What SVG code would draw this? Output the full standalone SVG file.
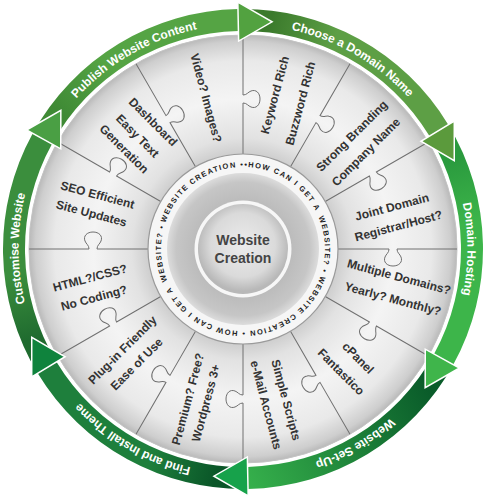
<svg xmlns="http://www.w3.org/2000/svg" width="486" height="500" viewBox="0 0 486 500">
<defs>
<style>
.pt{font-family:"Liberation Sans",Arial,sans-serif;font-weight:bold;font-size:12px;fill:#333;text-anchor:middle}
.bl{font-family:"Liberation Sans",Arial,sans-serif;font-weight:bold;font-size:12px;fill:#fff;text-anchor:middle}
.rt{font-family:"Liberation Sans",Arial,sans-serif;font-weight:bold;font-size:7.5px;fill:#1e1e1e;letter-spacing:1.3px}
.ct{font-family:"Liberation Sans",Arial,sans-serif;font-weight:bold;font-size:14px;fill:#444;text-anchor:middle}
.pl{fill:none;stroke:#707070;stroke-width:1}
.ah{stroke:#fff;stroke-width:1.5;stroke-linejoin:miter}
</style>
<path id="band" d="M35.154,129 A240,240 0 0,1 243,9 L243,31 A218,218 0 0,0 54.207,140 Z"/>
<path id="head" d="M243,2 L276.85,22.52 L243,41 Z"/>
<path id="pz" d="M243,154 L243,103 C247,103 248,106 251,107 C256,109 260,105 260,99 C260,93 256,89 251,91 C248,92 247,95 243,95 L243,35"/>
<path id="lblPath" d="M243,24.5 A224.5,224.5 0 1,1 243,473.5 A224.5,224.5 0 1,1 243,24.5"/>
<path id="ringPath" d="M165.283,222.845 A82,82 0 1,1 320.717,275.155 A82,82 0 1,1 165.283,222.845"/>
<linearGradient id="gP" gradientUnits="userSpaceOnUse" x1="62.55" y1="108.01" x2="111.65" y2="61.41"><stop offset="0" stop-color="#3f8a35"/><stop offset="1" stop-color="#55a444"/></linearGradient>
<linearGradient id="gC" gradientUnits="userSpaceOnUse" x1="62.55" y1="108.01" x2="111.65" y2="61.41"><stop offset="0" stop-color="#3b7a2c"/><stop offset="1" stop-color="#5d9f45"/></linearGradient>
<linearGradient id="gH" gradientUnits="userSpaceOnUse" x1="62.55" y1="108.01" x2="111.65" y2="61.41"><stop offset="0" stop-color="#2a9a3e"/><stop offset="1" stop-color="#3db54a"/></linearGradient>
<linearGradient id="gS" gradientUnits="userSpaceOnUse" x1="62.55" y1="108.01" x2="243" y2="20"><stop offset="0" stop-color="#0a5c2a"/><stop offset="1" stop-color="#35af4b"/></linearGradient>
<linearGradient id="gF" gradientUnits="userSpaceOnUse" x1="62.55" y1="108.01" x2="111.65" y2="61.41"><stop offset="0" stop-color="#0a5628"/><stop offset="1" stop-color="#1e7f3c"/></linearGradient>
<linearGradient id="gU" gradientUnits="userSpaceOnUse" x1="62.55" y1="108.01" x2="111.65" y2="61.41"><stop offset="0" stop-color="#1f6b2f"/><stop offset="1" stop-color="#3b8e3d"/></linearGradient>
<radialGradient id="disc" gradientUnits="userSpaceOnUse" cx="243" cy="249" r="214">
<stop offset="0.44" stop-color="#cdcdcd"/><stop offset="0.52" stop-color="#e2e2e2"/><stop offset="0.7" stop-color="#f4f4f4"/><stop offset="0.88" stop-color="#e9e9e9"/><stop offset="0.97" stop-color="#cecece"/><stop offset="1" stop-color="#b9b9b9"/>
</radialGradient>
<radialGradient id="gray" gradientUnits="userSpaceOnUse" cx="243" cy="249" r="76">
<stop offset="0.6" stop-color="#bababa"/><stop offset="0.88" stop-color="#c6c6c6"/><stop offset="1" stop-color="#dcdcdc"/>
</radialGradient>
<radialGradient id="core" gradientUnits="userSpaceOnUse" cx="243" cy="245" r="46">
<stop offset="0" stop-color="#ececec"/><stop offset="0.7" stop-color="#dadada"/><stop offset="1" stop-color="#b8b8b8"/>
</radialGradient>
</defs>
<rect width="486" height="500" fill="#fff"/>

<g id="wheel">
<circle cx="243" cy="249" r="214" fill="url(#disc)" stroke="#c4c4c4" stroke-width="1"/>
</g>

<g id="connectors">
<use href="#pz" class="pl" transform="rotate(0 243 249)"/>
<use href="#pz" class="pl" transform="rotate(30 243 249)"/>
<use href="#pz" class="pl" transform="rotate(60 243 249)"/>
<use href="#pz" class="pl" transform="rotate(90 243 249)"/>
<use href="#pz" class="pl" transform="rotate(120 243 249)"/>
<use href="#pz" class="pl" transform="rotate(150 243 249)"/>
<use href="#pz" class="pl" transform="rotate(180 243 249)"/>
<use href="#pz" class="pl" transform="rotate(210 243 249)"/>
<use href="#pz" class="pl" transform="rotate(240 243 249)"/>
<use href="#pz" class="pl" transform="rotate(270 243 249)"/>
<use href="#pz" class="pl" transform="rotate(300 243 249)"/>
<use href="#pz" class="pl" transform="rotate(330 243 249)"/>
</g>

<g id="cycle">
<use href="#band" fill="url(#gP)" transform="rotate(-1.2 243 249)"/>
<use href="#band" fill="url(#gC)" transform="rotate(58.8 243 249)"/>
<use href="#band" fill="url(#gH)" transform="rotate(118.8 243 249)"/>
<use href="#band" fill="url(#gS)" transform="rotate(178.8 243 249)"/>
<use href="#band" fill="url(#gF)" transform="rotate(238.8 243 249)"/>
<use href="#band" fill="url(#gU)" transform="rotate(298.8 243 249)"/>
<use href="#head" class="ah" fill="#52a240" transform="rotate(-1.2 243 249)"/>
<use href="#head" class="ah" fill="#5b9a3c" transform="rotate(58.8 243 249)"/>
<use href="#head" class="ah" fill="#3fb54b" transform="rotate(118.8 243 249)"/>
<use href="#head" class="ah" fill="#17a24b" transform="rotate(178.8 243 249)"/>
<use href="#head" class="ah" fill="#0f833d" transform="rotate(238.8 243 249)"/>
<use href="#head" class="ah" fill="#4a9f44" transform="rotate(298.8 243 249)"/>
</g>

<g id="step-publish"><text class="bl"><textPath href="#lblPath" startOffset="1293">Publish Website Content</textPath></text></g>
<g id="step-domain"><text class="bl"><textPath href="#lblPath" startOffset="117.5">Choose a Domain Name</textPath></text></g>
<g id="step-hosting"><text class="bl"><textPath href="#lblPath" startOffset="352.6">Domain Hosting</textPath></text></g>
<g id="step-setup"><text class="bl"><textPath href="#lblPath" startOffset="587.7">Website Set-Up</textPath></text></g>
<g id="step-theme"><text class="bl"><textPath href="#lblPath" startOffset="822.8">Find and Install Theme</textPath></text></g>
<g id="step-customise"><text class="bl"><textPath href="#lblPath" startOffset="1058">Customise Website</textPath></text></g>

<g id="hub">
<circle cx="243" cy="249" r="95" fill="#f6f6f6" stroke="#9a9a9a" stroke-width="1.2"/>
<circle cx="243" cy="249" r="76" fill="url(#gray)"/>
<circle cx="243" cy="249" r="48.5" fill="#f7f7f7"/>
<circle cx="243" cy="249" r="45" fill="url(#core)"/>
<g id="ring-text">
<text class="rt"><textPath href="#ringPath" startOffset="0">WEBSITE CREATION ••HOW CAN I GET A</textPath></text>
<text class="rt"><textPath href="#ringPath" startOffset="197.8">WEBSITE? •</textPath></text>
<text class="rt"><textPath href="#ringPath" startOffset="257.9">WEBSITE CREATION • HOW CAN I GET A</textPath></text>
<text class="rt"><textPath href="#ringPath" startOffset="455.1">WEBSITE? •</textPath></text>
</g>
<text class="ct" x="243" y="245">Website</text>
<text class="ct" x="243" y="263">Creation</text>
</g>

<g id="p-keyword"><text class="pt" transform="translate(275,95) rotate(-75)" y="4">Keyword Rich</text><text class="pt" transform="translate(300.5,103.5) rotate(-75)" y="4">Buzzword Rich</text></g>
<g id="p-branding"><text class="pt" transform="translate(352,136) rotate(-45)" y="4">Strong Branding</text><text class="pt" transform="translate(366,152) rotate(-45)" y="4">Company Name</text></g>
<g id="p-joint"><text class="pt" transform="translate(392,207) rotate(-15)" y="4">Joint Domain</text><text class="pt" transform="translate(398.5,226) rotate(-15)" y="4">Registrar/Host?</text></g>
<g id="p-multiple"><text class="pt" transform="translate(399,277) rotate(15)" y="4">Multiple Domains?</text><text class="pt" transform="translate(393,299) rotate(15)" y="4">Yearly? Monthly?</text></g>
<g id="p-cpanel"><text class="pt" transform="translate(358,358) rotate(45)" y="4">cPanel</text><text class="pt" transform="translate(341,372) rotate(45)" y="4">Fantastico</text></g>
<g id="p-scripts"><text class="pt" transform="translate(286,400) rotate(75)" y="4">Simple Scripts</text><text class="pt" transform="translate(266,405) rotate(75)" y="4">e-Mail Accounts</text></g>
<g id="p-premium"><text class="pt" transform="translate(188,399) rotate(-75)" y="4">Premium? Free?</text><text class="pt" transform="translate(206,403) rotate(-75)" y="4">Wordpress 3+</text></g>
<g id="p-plugin"><text class="pt" transform="translate(122.5,350) rotate(-45)" y="4">Plug-in Friendly</text><text class="pt" transform="translate(136.7,364) rotate(-45)" y="4">Ease of Use</text></g>
<g id="p-html"><text class="pt" transform="translate(90,278) rotate(-15)" y="4">HTML?/CSS?</text><text class="pt" transform="translate(94,298) rotate(-15)" y="4">No Coding?</text></g>
<g id="p-seo"><text class="pt" transform="translate(97.5,195) rotate(15)" y="4">SEO Efficient</text><text class="pt" transform="translate(91.5,213.5) rotate(15)" y="4">Site Updates</text></g>
<g id="p-dashboard"><text class="pt" transform="translate(153,122) rotate(45)" y="4">Dashboard</text><text class="pt" transform="translate(137.5,136) rotate(45)" y="4">Easy Text</text><text class="pt" transform="translate(124,149) rotate(45)" y="4">Generation</text></g>
<g id="p-video"><text class="pt" transform="translate(206,98) rotate(75)" y="4">Video? Images?</text></g>
</svg>
